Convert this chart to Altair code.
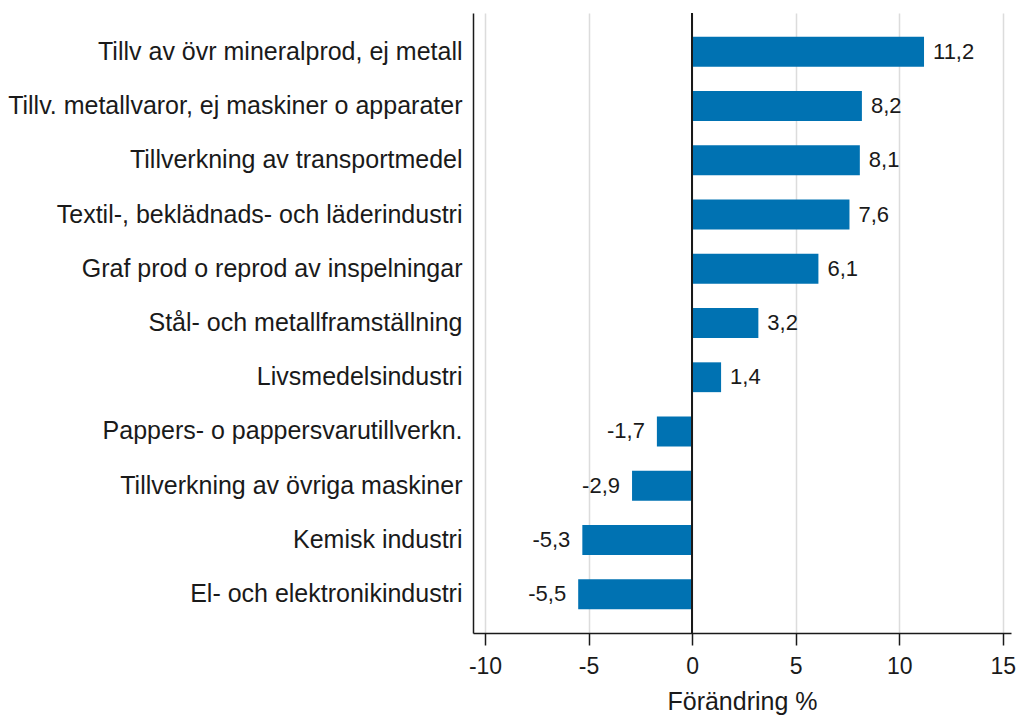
import altair as alt
import pandas as pd

categories = [
    "Tillv av övr mineralprod, ej metall",
    "Tillv. metallvaror, ej maskiner o apparater",
    "Tillverkning av transportmedel",
    "Textil-, beklädnads- och läderindustri",
    "Graf prod o reprod av inspelningar",
    "Stål- och metallframställning",
    "Livsmedelsindustri",
    "Pappers- o pappersvarutillverkn.",
    "Tillverkning av övriga maskiner",
    "Kemisk industri",
    "El- och elektronikindustri",
]
values = [11.2, 8.2, 8.1, 7.6, 6.1, 3.2, 1.4, -1.7, -2.9, -5.3, -5.5]
value_labels = ["11,2", "8,2", "8,1", "7,6", "6,1", "3,2", "1,4", "-1,7", "-2,9", "-5,3", "-5,5"]
x_ticks = [-10, -5, 0, 5, 10, 15]
x_title = "Förändring %"

df = pd.DataFrame({"cat": categories, "val": values, "lab": value_labels})

FONT = "Liberation Sans"
INK = "#1a1a1a"

y_enc = alt.Y(
    "cat:N",
    sort=categories,
    title=None,
    scale=alt.Scale(paddingInner=0.45, paddingOuter=0.44),
    axis=alt.Axis(
        domain=True, domainColor=INK, domainWidth=1.5,
        ticks=False, tickSize=0, grid=False,
        labelFontSize=25, labelFont=FONT, labelColor=INK,
        labelPadding=11, labelLimit=0,
    ),
)
x_enc = alt.X(
    "val:Q",
    scale=alt.Scale(domain=[-10.58, 15.4], nice=False, zero=False),
    title=x_title,
    axis=alt.Axis(
        values=x_ticks, grid=True, gridColor="#dcdcdc", gridWidth=1.5,
        domainColor=INK, domainWidth=1.5,
        tickColor=INK, tickSize=12, tickWidth=1.5,
        labelExpr="datum.value + ''",
        labelFontSize=23, labelFont=FONT, labelColor=INK, labelPadding=10,
        titleFontSize=25, titleFont=FONT, titleFontWeight="normal",
        titleColor=INK, titlePadding=11,
    ),
)

base = alt.Chart(df)
bars = base.mark_bar(color="#0072b2").encode(x=x_enc, y=y_enc)
zero = base.mark_rule(color=INK, strokeWidth=1.5).encode(x=alt.datum(0))
pos = base.transform_filter("datum.val >= 0").mark_text(
    align="left", baseline="middle", dx=9, fontSize=22, font=FONT, color=INK
).encode(x=x_enc, y=y_enc, text="lab:N")
neg = base.transform_filter("datum.val < 0").mark_text(
    align="right", baseline="middle", dx=-12, fontSize=22, font=FONT, color=INK
).encode(x=x_enc, y=y_enc, text="lab:N")

chart = (
    alt.layer(bars, zero, pos, neg)
    .properties(
        width=538,
        height=620,
        autosize=alt.AutoSizeParams(type="none"),
        padding={"left": 465, "top": 5, "right": 7, "bottom": 82},
    )
    .configure_view(stroke=None)
)

chart.save("out.html", embed_options={"renderer": "svg", "actions": False})
